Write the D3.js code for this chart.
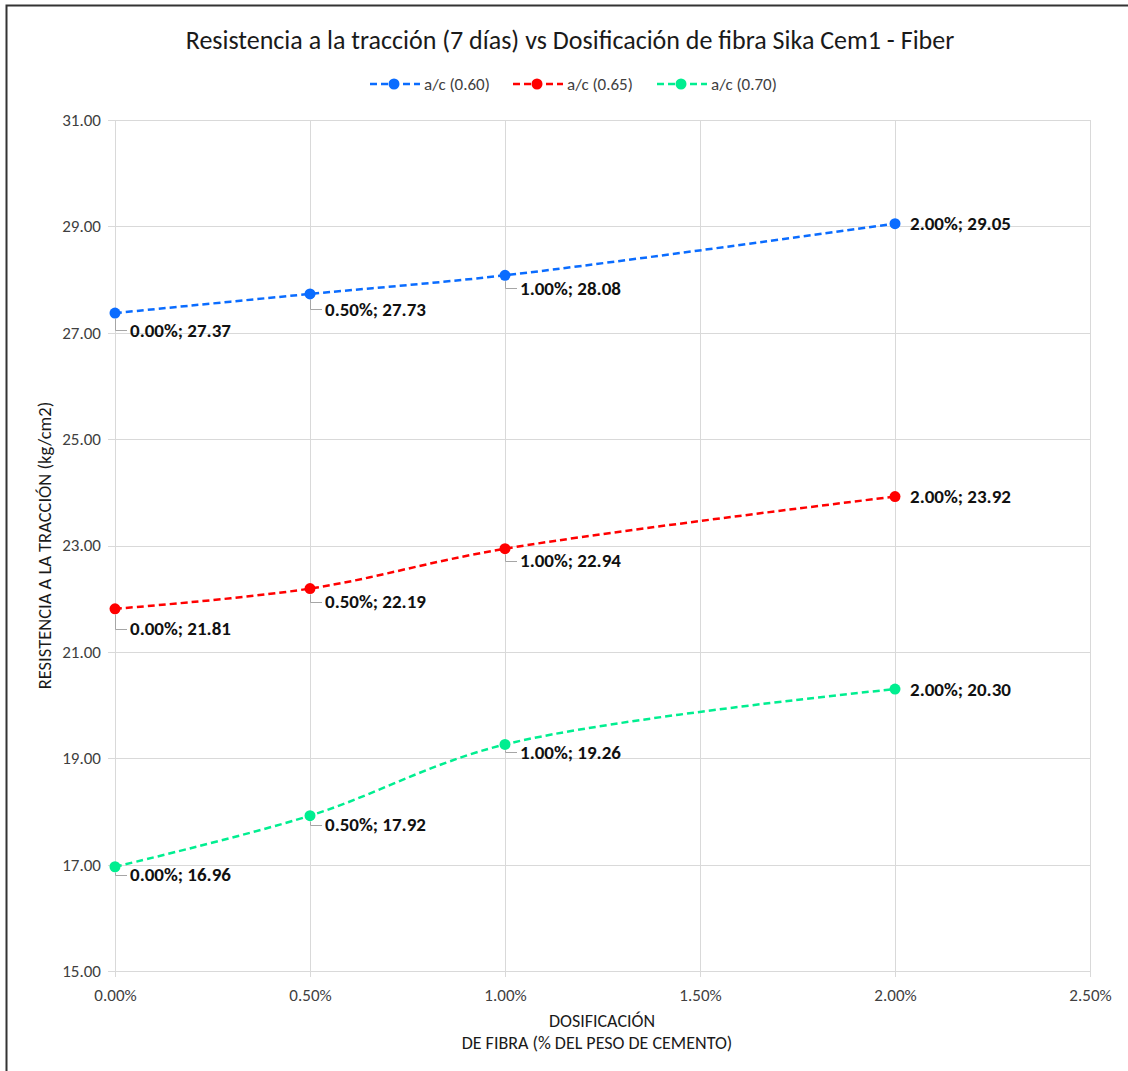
<!DOCTYPE html>
<html>
<head>
<meta charset="utf-8">
<script src="https://cdn.jsdelivr.net/npm/d3@7"></script>
<style>
  html, body { margin: 0; padding: 0; background: #fff; }
  svg { display: block; font-family: Carlito, Lato, "Open Sans", sans-serif; }
</style>
</head>
<body>
<svg id="chart" width="1128" height="1071"></svg>
<script>
// Fibre dosage (fraction of cement weight) and tensile strength at 7 days, kg/cm2
const dosages = [0.000, 0.005, 0.010, 0.020];
const seriesNames = ["a/c (0.60)", "a/c (0.65)", "a/c (0.70)"];
const strength060 = [27.37, 27.73, 28.08, 29.05];
const strength065 = [21.81, 22.19, 22.94, 23.92];
const strength070 = [16.96, 17.92, 19.26, 20.30];
const xTicks = [0, 0.005, 0.010, 0.015, 0.020, 0.025];
const yTicks = [15, 17, 19, 21, 23, 25, 27, 29, 31];

const colors = ["#0a6cff", "#ff0000", "#00ee90"];
// vertical drop of each data label below its point (px); last point sits level
const labelDrop = [
  [17, 15, 13, 0],
  [20, 13, 12, 0],
  [8, 9, 8, 0]
];

const series = seriesNames.map((name, i) => ({
  name,
  color: colors[i],
  values: [strength060, strength065, strength070][i].map((v, j) => ({ x: dosages[j], y: v, drop: labelDrop[i][j] }))
}));

const svg = d3.select("#chart");
const W = 1128, H = 1071;
const plot = { left: 115, right: 1090, top: 120, bottom: 971 };

// chart frame
svg.append("rect").attr("x", 6.5).attr("y", 5.5).attr("width", W + 20).attr("height", H + 20)
  .attr("fill", "#fff").attr("stroke", "#333").attr("stroke-width", 2);

const x = d3.scaleLinear().domain([0, 0.025]).range([plot.left, plot.right]);
const y = d3.scaleLinear().domain([15, 31]).range([plot.bottom, plot.top]);

const pct = d3.format(".2f");
const fmtX = d => pct(d * 100) + "%";

// gridlines
const grid = svg.append("g").attr("stroke", "#d9d9d9").attr("stroke-width", 1);
grid.selectAll(".gy").data(yTicks).join("line")
  .attr("x1", plot.left - 7).attr("x2", plot.right)
  .attr("y1", d => Math.round(y(d)) + 0.5).attr("y2", d => Math.round(y(d)) + 0.5);
grid.selectAll(".gx").data(xTicks).join("line")
  .attr("y1", plot.top).attr("y2", plot.bottom + 6)
  .attr("x1", d => Math.round(x(d)) + 0.5).attr("x2", d => Math.round(x(d)) + 0.5);

// axes (labels only; lines drawn by the grid)
const yAxis = svg.append("g").attr("transform", `translate(${plot.left - 8},0)`)
  .call(d3.axisLeft(y).tickValues(yTicks).tickFormat(d3.format(".2f")).tickSize(0).tickPadding(6));
const xAxis = svg.append("g").attr("transform", `translate(0,${plot.bottom + 10})`)
  .call(d3.axisBottom(x).tickValues(xTicks).tickFormat(fmtX).tickSize(0).tickPadding(8));
[yAxis, xAxis].forEach(a => {
  a.select(".domain").remove();
  a.selectAll("text").attr("font-size", 17).attr("fill", "#404040").attr("font-family", "Carlito, Lato, sans-serif");
});

// title
svg.append("text").attr("x", 570).attr("y", 49).attr("text-anchor", "middle")
  .attr("font-size", 26).attr("fill", "#1a1a1a")
  .text("Resistencia a la tracción (7 días) vs Dosificación de fibra Sika Cem1 - Fiber");

// axis titles
svg.append("text").attr("transform", `translate(51,${(plot.top + plot.bottom) / 2}) rotate(-90)`)
  .attr("text-anchor", "middle").attr("font-size", 18.5).attr("fill", "#1a1a1a")
  .text("RESISTENCIA A LA TRACCIÓN (kg/cm2)");
const xt = svg.append("text").attr("text-anchor", "middle").attr("font-size", 18).attr("fill", "#1a1a1a");
xt.append("tspan").attr("x", 602).attr("y", 1027).text("DOSIFICACIÓN");
xt.append("tspan").attr("x", 597).attr("y", 1049).text("DE FIBRA (% DEL PESO DE CEMENTO)");

// series lines
const line = d3.line().x(d => x(d.x)).y(d => y(d.y)).curve(d3.curveCatmullRom.alpha(0.5));
const gs = svg.selectAll(".series").data(series).join("g").attr("class", "series");
gs.append("path").attr("d", d => line(d.values)).attr("fill", "none")
  .attr("stroke", d => d.color).attr("stroke-width", 2.5).attr("stroke-dasharray", "7,4");

// leader lines for data labels
gs.each(function (s) {
  const g = d3.select(this);
  s.values.forEach(p => {
    const px = x(p.x), py = y(p.y);
    if (p.drop > 0) {
      g.append("path")
        .attr("d", `M${Math.round(px) + 0.5},${py + 6}V${Math.round(py + p.drop) + 0.5}H${px + 12}`)
        .attr("fill", "none").attr("stroke", "#a6a6a6").attr("stroke-width", 1);
    }
  });
});

// markers
gs.selectAll("circle").data(d => d.values.map(v => ({ ...v, color: d.color }))).join("circle")
  .attr("cx", d => x(d.x)).attr("cy", d => y(d.y)).attr("r", 5.5).attr("fill", d => d.color);

// data labels
gs.selectAll(".lbl").data(d => d.values).join("text").attr("class", "lbl")
  .attr("x", d => x(d.x) + 15).attr("y", d => y(d.y) + d.drop)
  .attr("dy", "0.35em").attr("font-size", 19).attr("font-weight", "bold").attr("fill", "#111")
  .text(d => `${fmtX(d.x)}; ${pct(d.y)}`);

// legend
const legendX = [370, 513, 657];
const lg = svg.selectAll(".legend").data(series).join("g").attr("class", "legend")
  .attr("transform", (d, i) => `translate(${legendX[i]},84)`);
lg.append("line").attr("x1", 0).attr("x2", 50).attr("y1", 0).attr("y2", 0)
  .attr("stroke", d => d.color).attr("stroke-width", 2.5).attr("stroke-dasharray", "7,4");
lg.append("circle").attr("cx", 24).attr("cy", 0).attr("r", 5.5).attr("fill", d => d.color);
lg.append("text").attr("x", 54).attr("dy", "0.35em").attr("font-size", 17).attr("fill", "#404040")
  .text(d => d.name);
</script>
</body>
</html>
